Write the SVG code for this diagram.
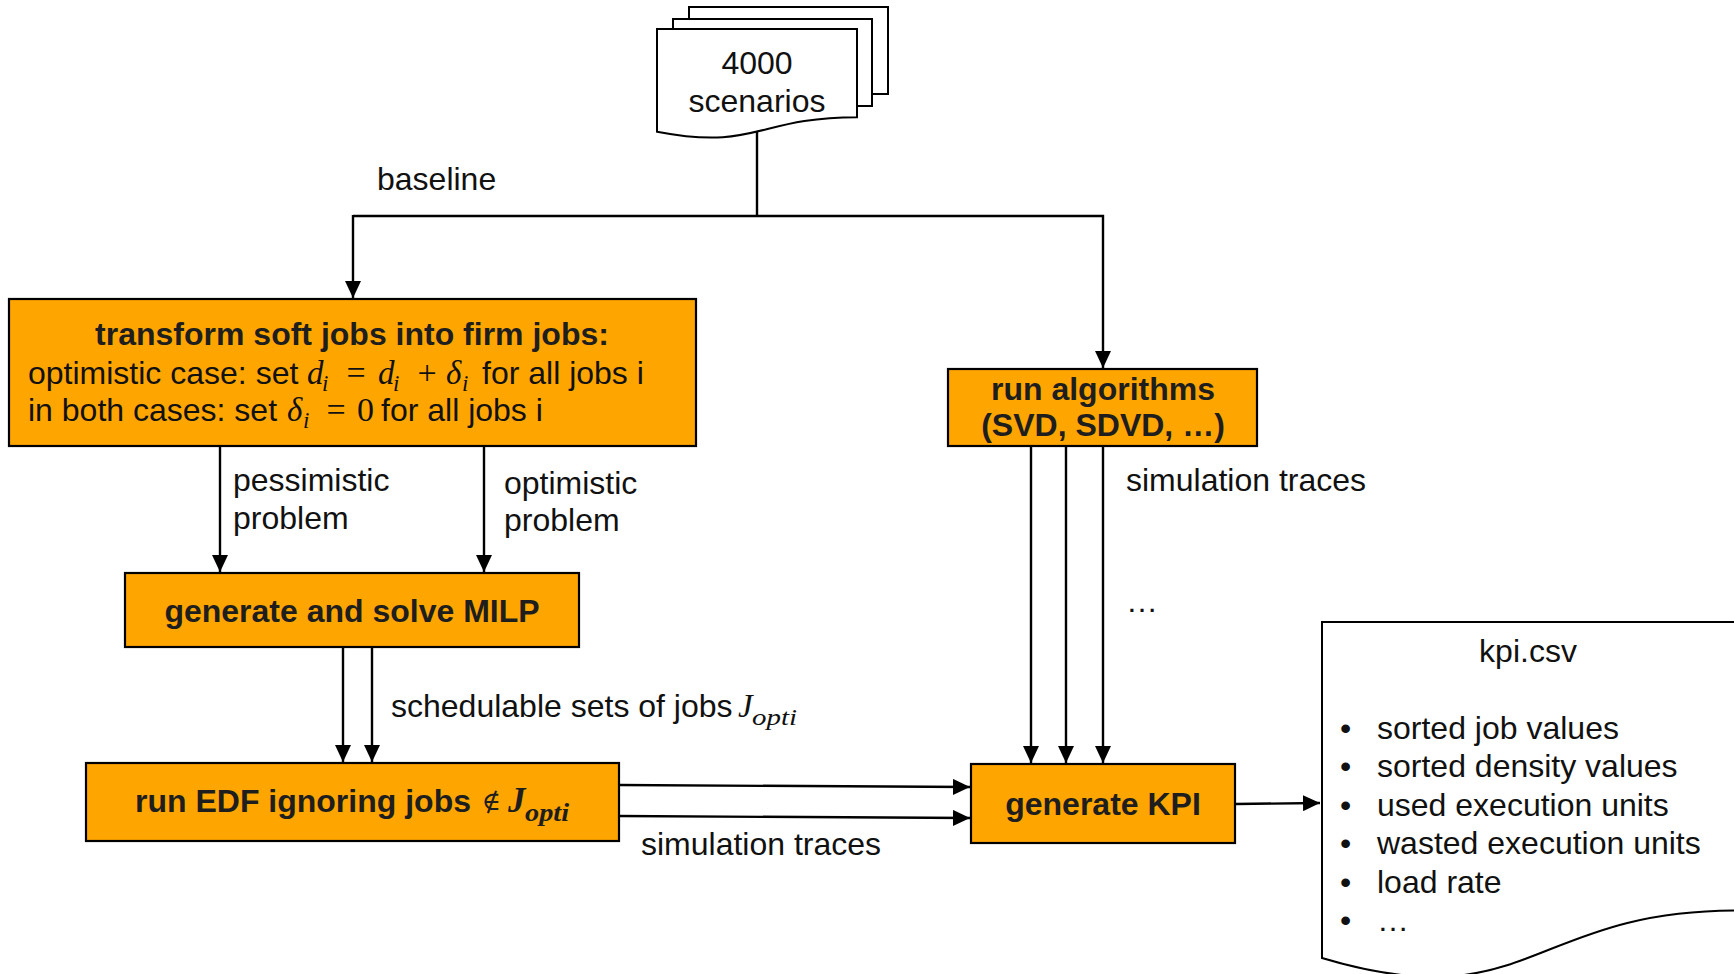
<svg xmlns="http://www.w3.org/2000/svg" width="1734" height="974" viewBox="0 0 1734 974">
<style>
.box{fill:#FFA500;stroke:#000;stroke-width:2.2}
.doc{fill:#fff;stroke:#000;stroke-width:2}
.ln{fill:none;stroke:#000;stroke-width:2.4}
.arr{marker-end:url(#ah)}
.t{font-family:"Liberation Sans",Arial,sans-serif;font-size:32px;fill:#111}
.b{font-family:"Liberation Sans",Arial,sans-serif;font-size:32px;font-weight:bold;fill:#1e1e1e}
.m{font-family:"Liberation Serif","Times New Roman",serif;font-style:italic;font-size:33px;fill:#111}
.mu{font-family:"Liberation Serif","Times New Roman",serif;font-size:34px;fill:#111}
.ms{font-family:"Liberation Serif","Times New Roman",serif;font-style:italic;font-size:23px;fill:#111}
.mb{font-family:"Liberation Serif","Times New Roman",serif;font-style:italic;font-weight:bold;font-size:35px;fill:#1e1e1e}
.mbs{font-family:"Liberation Serif","Times New Roman",serif;font-style:italic;font-weight:bold;font-size:25px;fill:#1e1e1e}
.ne{font-family:"DejaVu Serif",serif;font-size:26px;fill:#1e1e1e}
.c{text-anchor:middle}
</style>
<defs>
<marker id="ah" markerUnits="userSpaceOnUse" markerWidth="18" markerHeight="16" viewBox="0 0 18 16" refX="17" refY="8" orient="auto">
<path d="M0,0 L17,8 L0,16 Z" fill="#000"/>
</marker>
</defs>

<g id="connectors">
<path class="ln" d="M757,131 V216"/>
<path class="ln arr" d="M353,216 H757 M353,215 V298"/>
<path class="ln arr" d="M757,216 H1103 V368"/>
<path class="ln arr" d="M220,446 V572"/>
<path class="ln arr" d="M484,446 V572"/>
<path class="ln arr" d="M343,647 V762"/>
<path class="ln arr" d="M372,647 V762"/>
<path class="ln arr" d="M619,785 L970,787"/>
<path class="ln arr" d="M619,816 L970,818"/>
<path class="ln arr" d="M1031,447 V763"/>
<path class="ln arr" d="M1066,447 V763"/>
<path class="ln arr" d="M1103,447 V763"/>
<path class="ln arr" d="M1236,804 L1320,803"/>
<text class="t" x="377" y="190">baseline</text>
<text class="t" x="233" y="491">pessimistic</text>
<text class="t" x="233" y="529">problem</text>
<text class="t" x="504" y="494">optimistic</text>
<text class="t" x="504" y="531">problem</text>
<text class="t" x="391" y="717">schedulable sets of jobs</text>
<text class="m" x="738" y="717">J</text>
<text class="ms" x="752" y="725" textLength="45" lengthAdjust="spacingAndGlyphs">opti</text>
<text class="t" x="641" y="855">simulation traces</text>
<text class="t" x="1126" y="491">simulation traces</text>
<text class="t" x="1126" y="612">…</text>
</g>

<g id="scenarios">
<path class="doc" d="M689,19 V7 H888 V94 H872"/>
<path class="doc" d="M673,29 V19 H872 V106 H857"/>
<path class="doc" d="M657,29 H857 V117.2 C757,117.2 757,150.8 657,131.7 Z"/>
<text class="t c" x="757" y="74">4000</text>
<text class="t c" x="757" y="112">scenarios</text>
</g>

<g id="transform">
<rect class="box" x="9" y="299" width="687" height="147"/>
<text class="b c" x="352" y="345">transform soft jobs into firm jobs:</text>
<text class="t" x="28" y="384">optimistic case: set</text>
<text class="m" x="307" y="384">d</text>
<text class="ms" x="322" y="391">i</text>
<text class="mu c" x="356" y="384">=</text>
<text class="m" x="378" y="384">d</text>
<text class="ms" x="393" y="391">i</text>
<text class="mu c" x="427" y="384">+</text>
<text class="m" x="446" y="384">δ</text>
<text class="ms" x="462" y="391">i</text>
<text class="t" x="482" y="384">for all jobs i</text>
<text class="t" x="28" y="421">in both cases: set</text>
<text class="m" x="287" y="421">δ</text>
<text class="ms" x="303" y="428">i</text>
<text class="mu c" x="336" y="421">=</text>
<text class="mu" x="357" y="421">0</text>
<text class="t" x="381" y="421">for all jobs i</text>
</g>

<g id="milp">
<rect class="box" x="125" y="573" width="454" height="74"/>
<text class="b c" x="352" y="622">generate and solve MILP</text>
</g>

<g id="edf">
<rect class="box" x="86" y="763" width="533" height="78"/>
<text class="b" x="135" y="812">run EDF ignoring jobs</text>
<text class="ne c" x="491" y="810">∉</text>
<text class="mb" x="508" y="812">J</text>
<text class="mbs" x="525" y="821" textLength="44" lengthAdjust="spacingAndGlyphs">opti</text>
</g>

<g id="algorithms">
<rect class="box" x="948" y="369" width="309" height="77"/>
<text class="b c" x="1103" y="400">run algorithms</text>
<text class="b c" x="1103" y="436">(SVD, SDVD, …)</text>
</g>

<g id="kpi">
<rect class="box" x="971" y="764" width="264" height="79"/>
<text class="b c" x="1103" y="815">generate KPI</text>
</g>

<g id="kpicsv">
<path class="doc" d="M1322,622 H1737 V910.5 C1529,910.5 1529,1020 1322,958 Z"/>
<text class="t c" x="1528" y="662">kpi.csv</text>
<g class="t">
<text x="1340" y="739">•</text><text x="1377" y="739">sorted job values</text>
<text x="1340" y="777">•</text><text x="1377" y="777">sorted density values</text>
<text x="1340" y="816">•</text><text x="1377" y="816">used execution units</text>
<text x="1340" y="854">•</text><text x="1377" y="854">wasted execution units</text>
<text x="1340" y="893">•</text><text x="1377" y="893">load rate</text>
<text x="1340" y="931">•</text><text x="1377" y="931">…</text>
</g>
</g>
</svg>
